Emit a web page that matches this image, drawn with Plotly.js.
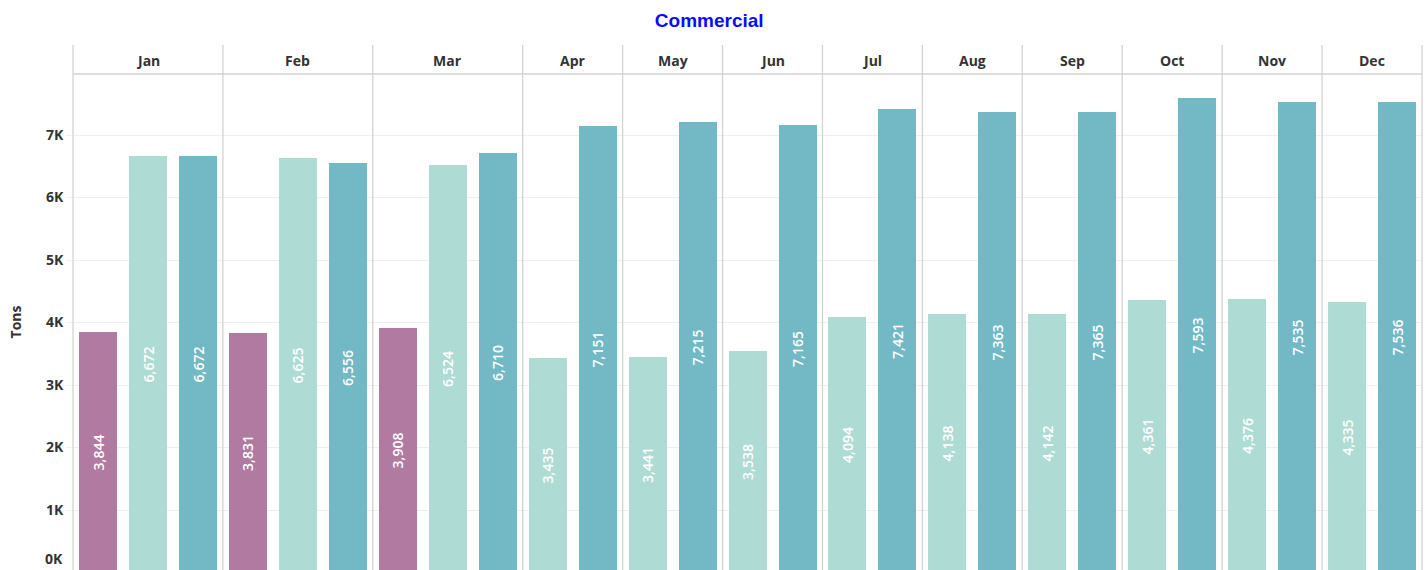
<!DOCTYPE html>
<html>
<head>
<meta charset="utf-8">
<script src="https://cdn.plot.ly/plotly-3.0.1.min.js"></script>
<style>html,body{margin:0;padding:0;background:#fff;}#chart{width:1427px;height:570px;}</style>
</head>
<body>
<div id="chart"></div>
<script>
// ---- data ----
const months = ['Jan','Feb','Mar','Apr','May','Jun','Jul','Aug','Sep','Oct','Nov','Dec'];
const seriesNames = ['Series A','Series B','Series C'];
const seriesAValues = [3844, 3831, 3908, null, null, null, null, null, null, null, null, null];
const seriesBValues = [6672, 6625, 6524, 3435, 3441, 3538, 4094, 4138, 4142, 4361, 4376, 4335];
const seriesCValues = [6672, 6556, 6710, 7151, 7215, 7165, 7421, 7363, 7365, 7593, 7535, 7536];
const yTickValues = [1000, 2000, 3000, 4000, 5000, 6000, 7000];
const yTickLabels = ['1K','2K','3K','4K','5K','6K','7K'];
const zeroLabel = '0K';
const chartTitle = 'Commercial';
const yTitle = 'Tons';

// ---- styles ----
const seriesColors = ['#B07AA1', '#AEDBD4', '#72B9C5'];
const allSeries = [seriesAValues, seriesBValues, seriesCValues];
const font = 'Open Sans, Lato, sans-serif';
const lineColor = '#d3d3d3';

const slotsPerMonth = months.map((m, i) => allSeries.filter(s => s[i] !== null).length);
const totalSlots = slotsPerMonth.reduce((a, b) => a + b, 0);

const plotTop = 74, plotBottom = 570, headerTop = 45;
const plotH = plotBottom - plotTop;
const headerFrac = 1 + (plotTop - headerTop) / plotH;

const traces = [];
const layout = {
  width: 1427, height: 570,
  margin: {l: 73, r: 5, t: plotTop, b: 0},
  paper_bgcolor: '#fff', plot_bgcolor: '#fff',
  showlegend: false,
  bargap: 0,
  font: {family: font, color: '#333'},
  title: {text: chartTitle, x: 0.497, xref: 'container', y: 1 - 20/570, yref: 'container', yanchor: 'middle',
          font: {family: 'Liberation Sans, Arial, sans-serif', size: 19, color: '#0a0aff', weight: 'bold'}},
  yaxis: {
    anchor: 'x', range: [40, 7976], tickvals: yTickValues, ticktext: yTickLabels,
    showgrid: true, gridcolor: '#efefef', gridwidth: 1, zeroline: false, showline: false,
    ticks: 'outside', ticklen: 6, tickcolor: '#efefef',
    tickfont: {family: font, size: 14, color: '#333', weight: 'bold'},
    title: {text: yTitle, font: {family: font, size: 14, color: '#333', weight: 'bold'}, standoff: 20},
    fixedrange: true
  },
  shapes: [],
  annotations: []
};

let cum = 0;
months.forEach((m, i) => {
  const present = [0, 1, 2].filter(s => allSeries[s][i] !== null);
  const n = present.length;
  const d0 = cum / totalSlots, d1 = (cum + n) / totalSlots;
  cum += n;
  const axName = i === 0 ? 'xaxis' : 'xaxis' + (i + 1);
  const axRef = i === 0 ? 'x' : 'x' + (i + 1);
  layout[axName] = {
    domain: [d0, d1], anchor: 'y', type: 'category',
    categoryorder: 'array', categoryarray: present.map(s => seriesNames[s]),
    range: [-0.5, n - 0.5], showticklabels: false, showgrid: false, zeroline: false,
    showline: false, ticks: '', fixedrange: true
  };
  traces.push({
    type: 'bar', xaxis: axRef, yaxis: 'y',
    x: present.map(s => seriesNames[s]),
    y: present.map(s => allSeries[s][i]),
    width: 0.76,
    marker: {color: present.map(s => seriesColors[s]), line: {width: 0}},
    texttemplate: '%{y:,}', textposition: 'inside', insidetextanchor: 'middle',
    textangle: -90, constraintext: 'none',
    textfont: {family: font, size: 14, color: '#ffffff', weight: 600},
    hovertemplate: m + ' %{x}: %{y:,}<extra></extra>'
  });
  // month header
  layout.annotations.push({
    text: m, xref: 'paper', yref: 'paper', x: (d0 + d1) / 2, y: 1, xanchor: 'center', yanchor: 'middle',
    yshift: 14, showarrow: false, font: {family: font, size: 14, color: '#333', weight: 'bold'}
  });
  // divider at left of this month
  layout.shapes.push({type: 'line', xref: 'paper', yref: 'paper', x0: d0, x1: d0, y0: 0, y1: headerFrac,
    line: {color: lineColor, width: 1.3}, layer: 'above'});
  if (i === months.length - 1) {
    layout.shapes.push({type: 'line', xref: 'paper', yref: 'paper', x0: d1, x1: d1, y0: 0, y1: headerFrac,
      line: {color: lineColor, width: 1.3}, layer: 'above'});
  }
});
// header bottom line
layout.shapes.push({type: 'line', xref: 'paper', yref: 'paper', x0: 0, x1: 1, y0: 1, y1: 1,
  line: {color: lineColor, width: 1.3}, layer: 'above'});
// 0K label (baseline sits at the bottom edge)
layout.annotations.push({
  text: zeroLabel, xref: 'paper', yref: 'paper', x: 0, y: 0, xanchor: 'right', yanchor: 'bottom',
  xshift: -8, yshift: 0, showarrow: false, font: {family: font, size: 14, color: '#333', weight: 'bold'}
});

Plotly.newPlot('chart', traces, layout, {displayModeBar: false, responsive: false});
</script>
</body>
</html>
